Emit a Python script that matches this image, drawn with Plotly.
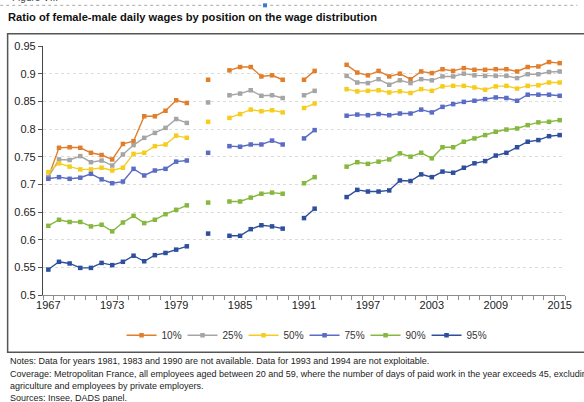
import plotly.graph_objects as go

years = list(range(1967, 2016))

# 1967-1980
p10_a = [0.713, 0.766, 0.767, 0.766, 0.757, 0.753, 0.745, 0.773, 0.778, 0.823, 0.823, 0.833, 0.852, 0.847]
p25_a = [0.713, 0.745, 0.744, 0.751, 0.740, 0.743, 0.734, 0.754, 0.771, 0.784, 0.793, 0.802, 0.818, 0.811]
p50_a = [0.722, 0.738, 0.732, 0.727, 0.727, 0.730, 0.725, 0.730, 0.755, 0.757, 0.769, 0.772, 0.788, 0.784]
p75_a = [0.710, 0.713, 0.710, 0.712, 0.719, 0.709, 0.702, 0.705, 0.728, 0.716, 0.725, 0.728, 0.741, 0.743]
p90_a = [0.625, 0.636, 0.632, 0.632, 0.624, 0.627, 0.615, 0.631, 0.643, 0.630, 0.636, 0.646, 0.654, 0.662]
p95_a = [0.546, 0.560, 0.557, 0.549, 0.549, 0.558, 0.554, 0.560, 0.571, 0.561, 0.572, 0.576, 0.582, 0.588]

# 1982
p10_1982, p25_1982, p50_1982, p75_1982, p90_1982, p95_1982 = 0.889, 0.848, 0.813, 0.757, 0.667, 0.611

# 1984-1989
p10_b = [0.906, 0.912, 0.912, 0.895, 0.897, 0.889]
p25_b = [0.861, 0.864, 0.870, 0.860, 0.861, 0.856]
p50_b = [0.820, 0.827, 0.835, 0.832, 0.834, 0.830]
p75_b = [0.769, 0.768, 0.772, 0.772, 0.779, 0.772]
p90_b = [0.669, 0.669, 0.676, 0.683, 0.685, 0.683]
p95_b = [0.607, 0.607, 0.619, 0.626, 0.624, 0.620]

# 1991-1992
p10_c = [0.889, 0.905]
p25_c = [0.861, 0.869]
p50_c = [0.838, 0.846]
p75_c = [0.783, 0.798]
p90_c = [0.702, 0.713]
p95_c = [0.639, 0.656]

# 1995-2015
p10_d = [0.916, 0.902, 0.897, 0.905, 0.895, 0.900, 0.890, 0.904, 0.901, 0.908, 0.905,
         0.910, 0.907, 0.907, 0.908, 0.908, 0.904, 0.912, 0.913, 0.921, 0.919]
p25_d = [0.896, 0.884, 0.883, 0.890, 0.880, 0.888, 0.883, 0.890, 0.888, 0.895, 0.895,
         0.900, 0.897, 0.896, 0.896, 0.896, 0.892, 0.899, 0.899, 0.903, 0.904]
p50_d = [0.872, 0.868, 0.869, 0.870, 0.866, 0.868, 0.865, 0.872, 0.869, 0.877, 0.878,
         0.878, 0.875, 0.871, 0.877, 0.878, 0.873, 0.878, 0.879, 0.884, 0.884]
p75_d = [0.824, 0.826, 0.825, 0.827, 0.825, 0.828, 0.828, 0.835, 0.830, 0.840, 0.845,
         0.849, 0.851, 0.854, 0.857, 0.856, 0.851, 0.862, 0.862, 0.862, 0.860]
p90_d = [0.732, 0.740, 0.737, 0.741, 0.745, 0.756, 0.750, 0.757, 0.747, 0.767, 0.767,
         0.777, 0.783, 0.789, 0.795, 0.799, 0.801, 0.807, 0.812, 0.813, 0.816]
p95_d = [0.677, 0.690, 0.687, 0.687, 0.689, 0.707, 0.706, 0.718, 0.713, 0.723, 0.721,
         0.730, 0.738, 0.742, 0.752, 0.757, 0.767, 0.777, 0.780, 0.787, 0.789]

series_names = ["10%", "25%", "50%", "75%", "90%", "95%"]
colors = ["#E07E2C", "#A5A5A5", "#F5CD1E", "#5A6CC4", "#86B83F", "#2E4F9C"]

def build(a, v1982, b, c, d):
    vals = {}
    for y, v in zip(range(1967, 1981), a):
        vals[y] = v
    vals[1982] = v1982
    for y, v in zip(range(1984, 1990), b):
        vals[y] = v
    for y, v in zip(range(1991, 1993), c):
        vals[y] = v
    for y, v in zip(range(1995, 2016), d):
        vals[y] = v
    return [vals.get(y) for y in years]

all_series = [
    build(p10_a, p10_1982, p10_b, p10_c, p10_d),
    build(p25_a, p25_1982, p25_b, p25_c, p25_d),
    build(p50_a, p50_1982, p50_b, p50_c, p50_d),
    build(p75_a, p75_1982, p75_b, p75_c, p75_d),
    build(p90_a, p90_1982, p90_b, p90_c, p90_d),
    build(p95_a, p95_1982, p95_b, p95_c, p95_d),
]

x_tick_labels = [str(y) for y in range(1967, 2016, 6)]
y_tick_vals = [0.5, 0.55, 0.6, 0.65, 0.7, 0.75, 0.8, 0.85, 0.9, 0.95]
y_tick_text = ["0.5", "0.55", "0.6", "0.65", "0.7", "0.75", "0.8", "0.85", "0.9", "0.95"]

W, H = 584, 402
ml, mr, mt, mb = 43.3, 12.4, 45.7, 107.2
pw, ph = W - ml - mr, H - mt - mb

def px(x):
    return (x - ml) / pw

def py(y):
    return (H - mb - y) / ph

fig = go.Figure()
for name, col, ys in zip(series_names, colors, all_series):
    fig.add_trace(go.Scatter(
        x=years, y=ys, name=name, mode="lines+markers",
        line=dict(color=col, width=1.4),
        marker=dict(symbol="square", size=4.5, color=col),
        connectgaps=False,
    ))

sans = "Liberation Sans, Arial, Helvetica, sans-serif"

fig.update_layout(
    width=W, height=H,
    margin=dict(l=ml, r=mr, t=mt, b=mb, pad=0),
    paper_bgcolor="white", plot_bgcolor="white",
    title=dict(text="<b>Ratio of female-male daily wages by position on the wage distribution</b>",
               x=8 / W, xref="container", xanchor="left",
               y=1 - 17.5 / H, yref="container", yanchor="middle",
               font=dict(family=sans, size=11.15, color="#111")),
    showlegend=True,
    legend=dict(orientation="h", x=px(308), xanchor="center", y=py(335), yanchor="middle",
                entrywidth=16, entrywidthmode="pixels",
                font=dict(family=sans, size=10, color="#333"), bgcolor="rgba(0,0,0,0)"),
    xaxis=dict(range=[1966.5, 2015.5], tickmode="array",
               tickvals=[int(t) for t in x_tick_labels], ticktext=x_tick_labels,
               ticks="", showgrid=False, zeroline=False,
               showline=True, linecolor="#8c8c8c", linewidth=1,
               tickfont=dict(family=sans, size=11, color="#222"),
               minor=dict(tickmode="linear", tick0=1966.5, dtick=1, ticks="outside",
                          ticklen=4, tickcolor="#8c8c8c", tickwidth=1, showgrid=False)),
    yaxis=dict(range=[0.5, 0.95], tickmode="array", tickvals=y_tick_vals,
               ticktext=y_tick_text,
               ticks="outside", ticklen=4, tickcolor="#555", showline=True,
               linecolor="#444", linewidth=1.2, showgrid=True, gridcolor="#dcdcdc",
               griddash="dot", gridwidth=1, zeroline=False,
               tickfont=dict(family=sans, size=11, color="#222")),
)

# outer frame
fig.add_shape(type="rect", xref="paper", yref="paper",
              x0=px(7.5), x1=px(600), y0=py(352), y1=py(33.5),
              line=dict(color="#555", width=1.5), fillcolor="rgba(0,0,0,0)", layer="below")
# dotted header line
fig.add_shape(type="line", xref="paper", yref="paper",
              x0=px(0), x1=px(584), y0=py(5), y1=py(5),
              line=dict(color="#aaa", width=1, dash="dot"))
fig.add_shape(type="rect", xref="paper", yref="paper",
              x0=px(266), x1=px(270), y0=py(7), y1=py(3),
              line=dict(width=0), fillcolor="#3b78d8")

fig.add_annotation(text="Figure VIII", xref="paper", yref="paper", x=px(10), y=py(-3),
                   xanchor="left", yanchor="middle", showarrow=False,
                   font=dict(family=sans, size=10, color="#444"))

notes = [
    ("Notes: Data for years 1981, 1983 and 1990 are not available. Data for 1993 and 1994 are not exploitable.", 361),
    ("Coverage: Metropolitan France, all employees aged between 20 and 59, where the number of days of paid work in the year exceeds 45, excluding", 374),
    ("agriculture and employees by private employers.", 386),
    ("Sources: Insee, DADS panel.", 397.5),
]
for txt, yy in notes:
    fig.add_annotation(text=txt, xref="paper", yref="paper", x=px(8), y=py(yy),
                       xanchor="left", yanchor="middle", showarrow=False,
                       font=dict(family=sans, size=9.0, color="#222"))

fig.write_html("out.html", config={"displayModeBar": False},
               post_script="document.body.style.margin='0';document.body.style.overflow='hidden';")
